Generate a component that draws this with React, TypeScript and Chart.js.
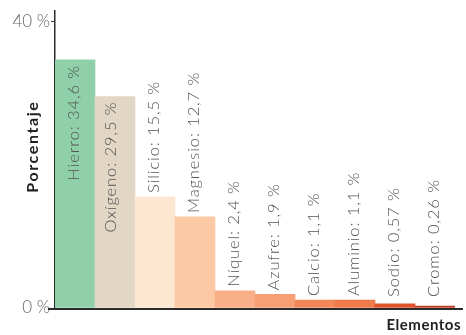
import React, { useEffect, useRef } from "react";
import { Chart, registerables } from "chart.js";

Chart.register(...registerables);

const categories = ["Hierro", "Oxígeno", "Silicio", "Magnesio", "Níquel", "Azufre", "Calcio", "Aluminio", "Sodio", "Cromo"];
const values = [34.6, 29.5, 15.5, 12.7, 2.4, 1.9, 1.1, 1.1, 0.57, 0.26];
const valueLabels = ["34,6 %", "29,5 %", "15,5 %", "12,7 %", "2,4 %", "1,9 %", "1,1 %", "1,1 %", "0,57 %", "0,26 %"];
const barColors = ["#8fd0a9", "#e2d7c5", "#fde7d1", "#fcc9a4", "#f9b089", "#f79f74", "#f28858", "#ef7a4b", "#de512b", "#c33a22"];
const yTickValues = [0, 40];
const yAxisTitle = "Porcentaje";
const xAxisTitle = "Elementos";

const FONT = "Lato, 'Open Sans', sans-serif";

const overlayPlugin = {
  id: "overlay",
  afterDatasetsDraw(chart: any) {
    const ctx = chart.ctx;
    const meta = chart.getDatasetMeta(0);
    const bottom = chart.chartArea.bottom;
    ctx.save();
    ctx.font = `300 16.5px ${FONT}`;
    (ctx as any).letterSpacing = "0.9px";
    ctx.fillStyle = "#555";
    ctx.textBaseline = "middle";
    meta.data.forEach((bar: any, i: number) => {
      const text = `${categories[i]}: ${valueLabels[i]}`;
      const w = ctx.measureText(text).width;
      let startY: number;
      if (i < 2) {
        startY = bar.y + 5 + w;
      } else {
        startY = Math.min(bar.y - 4, bottom - 11);
      }
      ctx.save();
      ctx.translate(bar.x - (i === 1 ? 4 : 1), startY);
      ctx.rotate(-Math.PI / 2);
      ctx.textAlign = "left";
      ctx.fillText(text, 0, 0);
      ctx.restore();
    });
    ctx.restore();
  },
  afterDraw(chart: any) {
    const ctx = chart.ctx;
    const { left, right, top, bottom } = chart.chartArea;
    ctx.save();
    ctx.strokeStyle = "#2b2b2b";
    ctx.lineWidth = 2;
    ctx.beginPath();
    ctx.moveTo(left - 7, bottom + 1);
    ctx.lineTo(right + 8, bottom + 1);
    ctx.stroke();

    ctx.fillStyle = "#222";
    ctx.font = `bold 16px ${FONT}`;
    (ctx as any).letterSpacing = "1.6px";
    ctx.textBaseline = "middle";
    ctx.textAlign = "center";
    ctx.save();
    ctx.translate(33, (top + bottom) / 2 - 13);
    ctx.rotate(-Math.PI / 2);
    ctx.fillText(yAxisTitle, 0, 0);
    ctx.restore();

    ctx.font = `bold 15px ${FONT}`;
    (ctx as any).letterSpacing = "0.5px";
    ctx.textAlign = "right";
    ctx.fillText(xAxisTitle, right + 6, bottom + 17);
    ctx.restore();
  },
};

export default function App() {
  const ref = useRef<HTMLCanvasElement | null>(null);
  useEffect(() => {
    if (!ref.current) return;
    const chart = new Chart(ref.current, {
      type: "bar",
      data: {
        labels: categories,
        datasets: [
          {
            data: values,
            backgroundColor: barColors,
            borderWidth: 0,
            categoryPercentage: 1,
            barPercentage: 1,
          },
        ],
      },
      options: {
        animation: false,
        responsive: false,
        maintainAspectRatio: false,
        layout: { padding: { top: 8, right: 11, left: 0, bottom: 0 } },
        plugins: { legend: { display: false }, tooltip: { enabled: false }, title: { display: false } },
        scales: {
          x: {
            ticks: { display: false },
            grid: { display: false },
            border: { display: false },
            afterFit: (s: any) => {
              s.height = 27;
            },
          },
          y: {
            min: 0,
            max: 41.4,
            afterBuildTicks: (s: any) => {
              s.ticks = yTickValues.map((v) => ({ value: v }));
            },
            ticks: {
              callback: (v: any) => `${v} %`,
              color: "#666",
              font: { family: FONT, size: 17, weight: "300" },
              padding: 1,
            },
            grid: { drawOnChartArea: false, drawTicks: true, tickLength: 4, color: "#333" },
            border: { display: true, color: "#2b2b2b", width: 1.5 },
            afterFit: (s: any) => {
              s.width = 55;
            },
          },
        },
      },
      plugins: [overlayPlugin],
    });
    return () => chart.destroy();
  }, []);
  return (
    <div style={{ position: "fixed", left: 0, top: 0, width: 466, height: 335, background: "#fff" }}>
      <canvas ref={ref} width={466} height={335} style={{ display: "block" }} />
    </div>
  );
}
